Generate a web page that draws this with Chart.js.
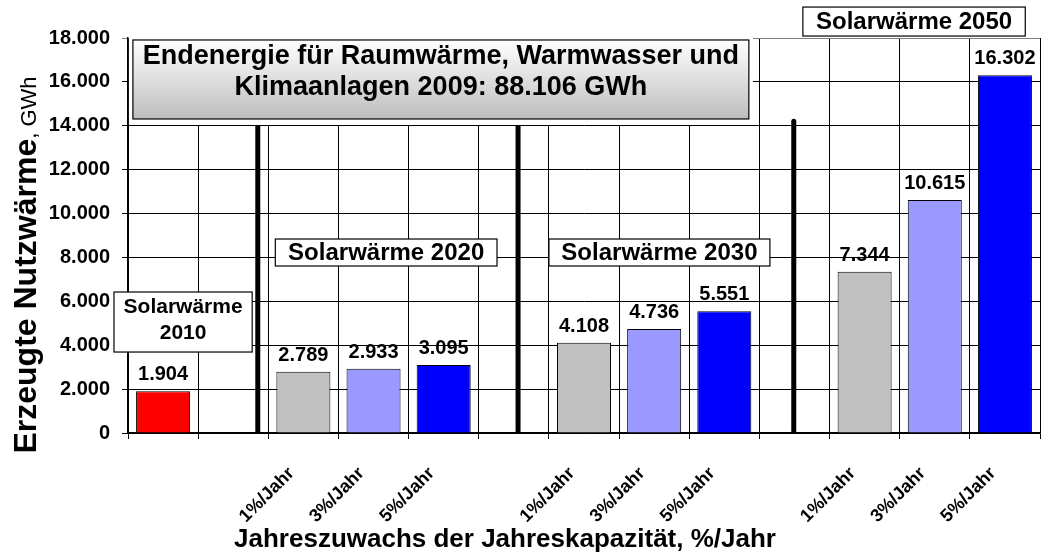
<!DOCTYPE html>
<html>
<head>
<meta charset="utf-8">
<script src="https://cdn.jsdelivr.net/npm/chart.js@4/dist/chart.umd.min.js"></script>
<style>
  html, body { margin: 0; padding: 0; background: #fff; }
  #wrap { width: 1042px; height: 558px; position: relative; }
</style>
</head>
<body>
<div id="wrap"><canvas id="solarChart"></canvas></div>
<script>
// Solarwärme scenarios: 2010 status, then 1/3/5 %/Jahr growth for 2020, 2030, 2050
const categories = ['', '', '1%/Jahr', '3%/Jahr', '5%/Jahr', '', '1%/Jahr', '3%/Jahr', '5%/Jahr', '', '1%/Jahr', '3%/Jahr', '5%/Jahr'];
const heatGWh = [1904, null, 2789, 2933, 3095, null, 4108, 4736, 5551, null, 7344, 10615, 16302];
const barColors = ['#ff0000', null, '#c0c0c0', '#9999ff', '#0000ff', null, '#c0c0c0', '#9999ff', '#0000ff', null, '#c0c0c0', '#9999ff', '#0000ff'];

// thick separators between the scenario years (category index, top value)
const dividerAt = [1.35, 5.06, 8.99];
const dividerTop = [18000, 18000, 14300];

const FONT = "'Liberation Sans', Arial, sans-serif";

// label boxes, placed in axis units (x: category index, y: GWh)
const boxes = [
  { lines: ['Endenergie für Raumwärme, Warmwasser und', 'Klimaanlagen 2009: 88.106 GWh'], x0: -0.43, x1: 8.35, y0: 17910, y1: 14310, size: 27, gap: 31, shift: -8, gradient: true },
  { lines: ['Solarwärme 2050'], x0: 9.12, x1: 12.29, y0: 19410, y1: 18090, size: 24 },
  { lines: ['Solarwärme 2020'], x0: 1.6, x1: 4.76, y0: 8840, y1: 7610, size: 24 },
  { lines: ['Solarwärme 2030'], x0: 5.5, x1: 8.65, y0: 8840, y1: 7610, size: 24 },
  { lines: ['Solarwärme', '2010'], x0: -0.7, x1: 1.27, y0: 6425, y1: 3690, size: 21, gap: 26, shift: -3 }
];

function fmt(v) {
  return String(v).replace(/\B(?=(\d{3})+(?!\d))/g, '.');
}

const overlayPlugin = {
  id: 'overlay',
  afterDatasetsDraw(chart) {
    const ctx = chart.ctx;
    const xs = chart.scales.x;
    const ys = chart.scales.y;

    // separators
    ctx.save();
    ctx.strokeStyle = '#000';
    ctx.lineWidth = 5;
    ctx.lineCap = 'round';
    dividerAt.forEach((pos, i) => {
      const px = xs.getPixelForValue(pos);
      ctx.beginPath();
      ctx.moveTo(px, ys.getPixelForValue(0) - 2);
      ctx.lineTo(px, ys.getPixelForValue(dividerTop[i]) + 2);
      ctx.stroke();
    });
    ctx.restore();

    // boxes
    boxes.forEach(b => {
      const left = xs.getPixelForValue(b.x0);
      const right = xs.getPixelForValue(b.x1);
      const top = ys.getPixelForValue(b.y0);
      const bottom = ys.getPixelForValue(b.y1);
      ctx.save();
      if (b.gradient) {
        ctx.fillStyle = '#fff';
        ctx.fillRect(left - 4, top - 3, right - left + 8, bottom - top + 9);
        const g = ctx.createLinearGradient(0, top, 0, bottom);
        g.addColorStop(0, '#ffffff');
        g.addColorStop(1, '#bdbdbd');
        ctx.fillStyle = g;
      } else {
        ctx.fillStyle = '#fff';
      }
      ctx.fillRect(left, top, right - left, bottom - top);
      ctx.strokeStyle = '#000';
      ctx.lineWidth = 1.2;
      ctx.strokeRect(left, top, right - left, bottom - top);
      ctx.fillStyle = '#000';
      ctx.font = 'bold ' + b.size + 'px ' + FONT;
      ctx.textAlign = 'center';
      ctx.textBaseline = 'middle';
      const n = b.lines.length;
      const gap = b.gap || 0;
      const mid = (top + bottom) / 2 + (b.shift || 0) + 1;
      b.lines.forEach((t, i) => {
        ctx.fillText(t, (left + right) / 2, mid + (i - (n - 1) / 2) * gap);
      });
      ctx.restore();
    });

    // value labels above the bars
    const meta = chart.getDatasetMeta(0);
    ctx.save();
    ctx.fillStyle = '#000';
    ctx.font = 'bold 20px ' + FONT;
    ctx.textAlign = 'center';
    ctx.textBaseline = 'alphabetic';
    meta.data.forEach((el, i) => {
      const v = heatGWh[i];
      if (v == null) return;
      ctx.fillText(fmt(v), el.x, el.y - 11);
    });
    ctx.restore();
  },
  afterDraw(chart) {
    const ctx = chart.ctx;
    ctx.save();
    ctx.fillStyle = '#000';

    // x axis title
    ctx.font = 'bold 26px ' + FONT;
    ctx.textAlign = 'center';
    ctx.textBaseline = 'alphabetic';
    ctx.fillText('Jahreszuwachs der Jahreskapazität, %/Jahr', 505, 547);

    // y axis title: bold part plus regular unit
    const boldPart = 'Erzeugte Nutzwärme';
    const unitPart = ', GWh';
    ctx.translate(36, 265);
    ctx.rotate(-Math.PI / 2);
    ctx.font = 'bold 32px ' + FONT;
    const wBold = ctx.measureText(boldPart).width;
    ctx.font = '22px ' + FONT;
    const wUnit = ctx.measureText(unitPart).width;
    const x = -(wBold + wUnit) / 2;
    ctx.textAlign = 'left';
    ctx.font = 'bold 32px ' + FONT;
    ctx.fillText(boldPart, x, 0);
    ctx.font = '22px ' + FONT;
    ctx.fillText(unitPart, x + wBold, 0);
    ctx.restore();
  }
};

new Chart(document.getElementById('solarChart'), {
  type: 'bar',
  data: {
    labels: categories,
    datasets: [{
      data: heatGWh,
      backgroundColor: barColors,
      borderColor: '#000',
      borderWidth: 1,
      barPercentage: 0.77,
      categoryPercentage: 1.0
    }]
  },
  options: {
    responsive: true,
    maintainAspectRatio: false,
    animation: false,
    layout: { padding: { top: 38, right: 2, left: 0, bottom: 0 } },
    plugins: {
      legend: { display: false },
      tooltip: { enabled: false }
    },
    scales: {
      x: {
        grid: { color: '#000', lineWidth: 1, offset: true, tickLength: 6 },
        border: { color: '#000', width: 1.5 },
        ticks: {
          color: '#000',
          font: { family: FONT, weight: 'bold', size: 18 },
          autoSkip: false,
          minRotation: 45,
          maxRotation: 45,
          padding: 24,
          labelOffset: -12
        },
        afterFit(scale) {
          scale.height = 125;
          scale.paddingLeft = 0;
          scale.paddingRight = 0;
        }
      },
      y: {
        min: 0,
        max: 18000,
        grid: {
          color: ctx => (ctx.tick && ctx.tick.value === 18000 ? '#808080' : '#000'),
          lineWidth: 1,
          tickLength: 6
        },
        border: { color: '#000', width: 1.5 },
        ticks: {
          stepSize: 2000,
          color: '#000',
          padding: 12,
          font: { family: FONT, weight: 'bold', size: 20 },
          callback: v => fmt(v)
        },
        afterFit(scale) { scale.width = 128; }
      }
    }
  },
  plugins: [overlayPlugin]
});
</script>
</body>
</html>
